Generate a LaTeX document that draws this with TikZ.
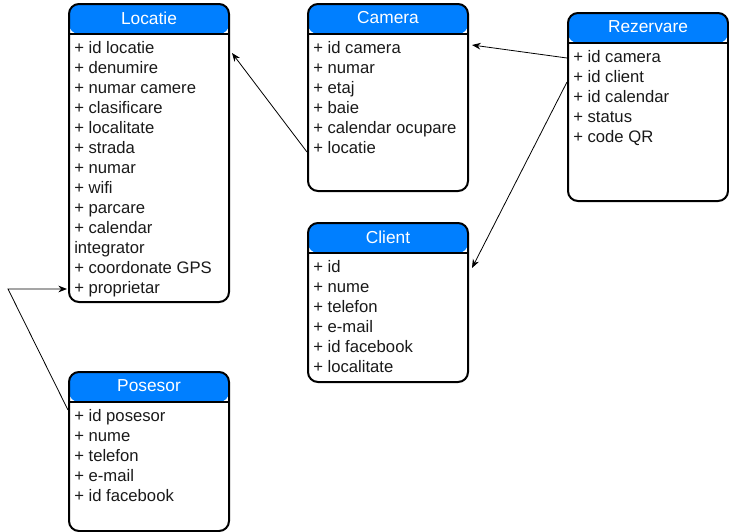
\documentclass[tikz,border=0pt]{standalone}
\usepackage{fontspec}
\setmainfont{Liberation Sans}
\usetikzlibrary{arrows.meta, positioning, calc}
\definecolor{hdrblue}{RGB}{0,127,255}

\begin{document}
\begin{tikzpicture}[
        x=0.75pt, y=-0.75pt,
        tbl/.style={rectangle, draw, line width=1.5pt, rounded corners=7.5pt, minimum width=120pt, anchor=north west, inner sep=0pt,
            path picture={
                \fill[hdrblue] (path picture bounding box.north west) rectangle ([yshift=-22.5pt]path picture bounding box.north east);
                \draw[line width=0.8pt] ([yshift=-22.5pt]path picture bounding box.north west) -- ([yshift=-22.5pt]path picture bounding box.north east);}},
        title/.style={text=white, font=\fontsize{13}{15}\selectfont},
        items/.style={anchor=north west, align=left, inner sep=0pt, font=\fontsize{12.5}{15}\selectfont, text=black!90},
        arr/.style={-{Stealth[length=6.5pt, width=5pt]}, line width=0.6pt}
        ]
        \useasboundingbox (0,0) rectangle (729,532);
        % tables
        \node[tbl, minimum height=223.5pt] (locatie)   at (68,3)   {};
        \node[tbl, minimum height=140.25pt] (camera)   at (307,3)  {};
        \node[tbl, minimum height=141pt]   (rezervare) at (567,12) {};
        \node[tbl, minimum height=119.25pt] (client)   at (307,222) {};
        \node[tbl, minimum height=119.25pt] (posesor)  at (68,371) {};
        % titles
        \node[title] (locatieT)   at ($(locatie.north)+(0,15)$)   {Locatie};
        \node[title] (cameraT)    at ($(camera.north)+(0,15)$)    {Camera};
        \node[title] (rezervareT) at ($(rezervare.north)+(0,15)$) {Rezervare};
        \node[title] (clientT)    at ($(client.north)+(0,15)$)    {Client};
        \node[title] (posesorT)   at ($(posesor.north)+(0,15)$)   {Posesor};
        % fields
        \node[items] (locatieL) at ($(locatie.north west)+(6,38)$) {+ id locatie\\+ denumire\\+ numar camere\\+ clasificare\\+ localitate\\+ strada\\+ numar\\+ wifi\\+ parcare\\+ calendar\\integrator\\+ coordonate GPS\\+ proprietar};
        \node[items] (cameraL) at ($(camera.north west)+(6,38)$) {+ id camera\\+ numar\\+ etaj\\+ baie\\+ calendar ocupare\\+ locatie};
        \node[items] (rezervareL) at ($(rezervare.north west)+(6,38)$) {+ id camera\\+ id client\\+ id calendar\\+ status\\+ code QR};
        \node[items] (clientL) at ($(client.north west)+(6,38)$) {+ id\\+ nume\\+ telefon\\+ e-mail\\+ id facebook\\+ localitate};
        \node[items] (posesorL) at ($(posesor.north west)+(6,38)$) {+ id posesor\\+ nume\\+ telefon\\+ e-mail\\+ id facebook};
        % relations
        \coordinate (bend) at (8,289);
        \draw[arr] ($(camera.north west)+(0,149)$) -- ($(locatie.north east)+(2,50)$);
        \draw[arr] ($(rezervare.north west)+(0,46)$) -- ($(camera.north east)+(3,42)$);
        \draw[arr] ($(rezervare.north west)+(0,70)$) -- ($(client.north east)+(3,46)$);
        \draw[arr] ($(posesor.north west)+(0,39)$) -- (bend) -- ($(locatie.north west)+(-1,286)$);
    \end{tikzpicture}
\end{document}
